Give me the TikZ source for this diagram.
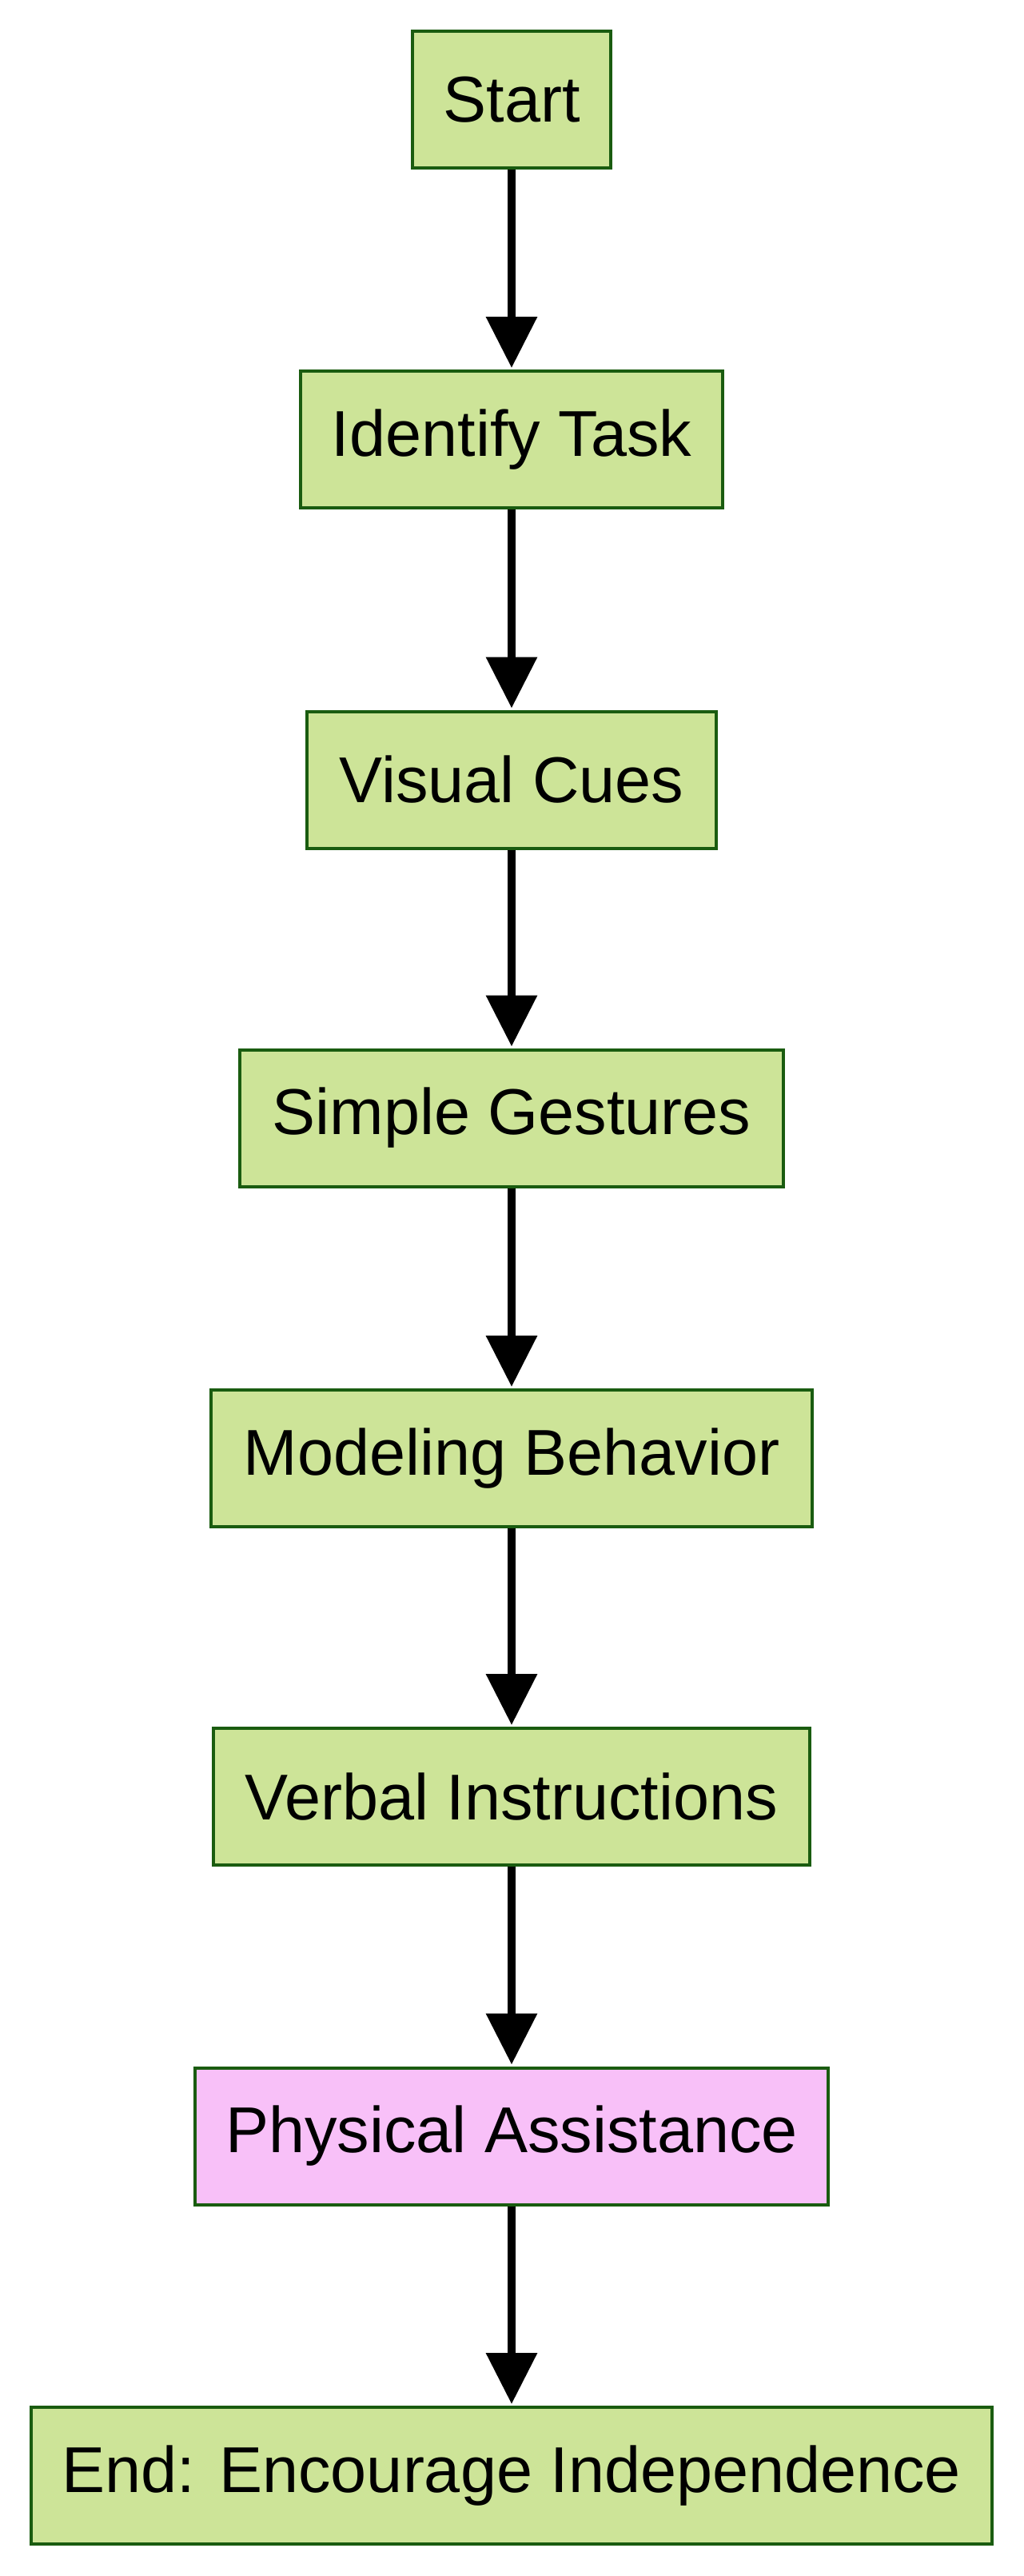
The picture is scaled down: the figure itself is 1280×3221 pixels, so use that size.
\documentclass[tikz,border=0pt]{standalone}
\usepackage{fontspec}
\setmainfont{Liberation Sans}
\usetikzlibrary{arrows.meta}
\definecolor{boxfill}{HTML}{CDE498}
\definecolor{boxline}{HTML}{1A5C10}
\definecolor{pinkfill}{HTML}{F8C0F8}
\begin{document}
\begin{tikzpicture}[x=1pt,y=-1pt,
  stepbox/.style={draw=boxline,line width=4pt,fill=boxfill,minimum height=171pt,inner sep=0pt,font=\fontsize{81}{94}\selectfont},
  pinkbox/.style={stepbox,fill=pinkfill},
  flow/.style={line width=10pt,-{Triangle[width=62pt,length=64pt]},shorten >=2pt}]
\useasboundingbox (0,0) rectangle (1280,3221);
\node[stepbox,minimum width=248pt] (start) at (640,124.5) {Start};
\node[stepbox,minimum width=528pt] (identify) at (640,549.5) {Identify Task};
\node[stepbox,minimum width=512pt] (visual) at (640,975) {Visual Cues};
\node[stepbox,minimum width=680pt] (gestures) at (640,1398) {Simple Gestures};
\node[stepbox,minimum width=752pt] (model) at (640,1823.5) {Modeling Behavior};
\node[stepbox,minimum width=746pt] (verbal) at (640,2246.5) {Verbal Instructions};
\node[pinkbox,minimum width=792pt] (physical) at (640,2671) {Physical Assistance};
\node[stepbox,minimum width=1202pt] (end) at (640,3095.5) {End: Encourage Independence};
\draw[flow] (start) -- (identify);
\draw[flow] (identify) -- (visual);
\draw[flow] (visual) -- (gestures);
\draw[flow] (gestures) -- (model);
\draw[flow] (model) -- (verbal);
\draw[flow] (verbal) -- (physical);
\draw[flow] (physical) -- (end);
\end{tikzpicture}
\end{document}
